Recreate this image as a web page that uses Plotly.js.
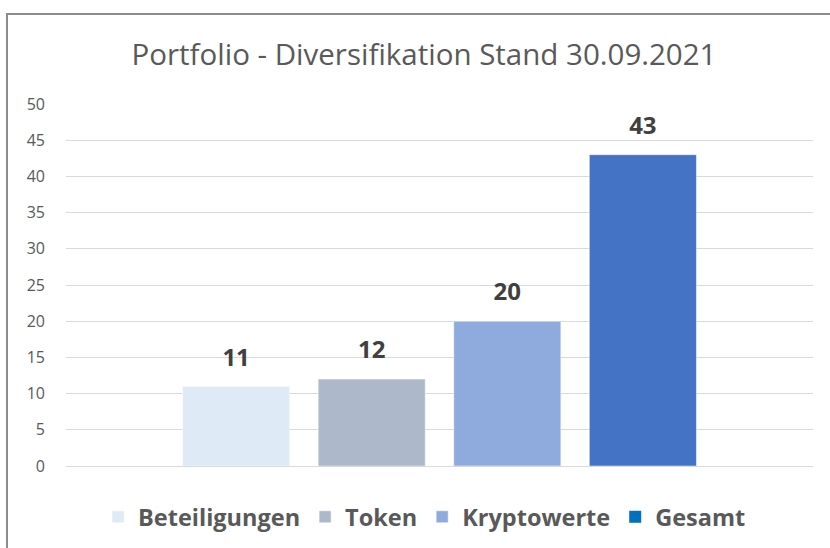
<!DOCTYPE html>
<html>
<head>
<meta charset="utf-8">
<script src="https://cdn.plot.ly/plotly-3.0.1.min.js"></script>
<style>
  html, body { margin: 0; padding: 0; background: #ffffff; overflow: hidden; }
  #wrap { position: relative; width: 830px; height: 548px; }
  #chart { width: 830px; height: 548px; }
  #frame { position: absolute; left: 6px; top: 13px; width: 900px; height: 700px;
           border: 2px solid #8c8c8c; pointer-events: none; }
</style>
</head>
<body>
<div id="wrap">
  <div id="chart"></div>
  <div id="frame"></div>
</div>
<script>
// Data
const category = ["Portfolio"];
const seriesNames = ["Beteiligungen", "Token", "Kryptowerte", "Gesamt"];
const seriesValues = [11, 12, 20, 43];
const barColors = ["#DEEBF7", "#ADB9CA", "#8FAADC", "#4472C4"];
const legendColors = ["#DEEBF7", "#ADB9CA", "#8FAADC", "#0070C0"];
const yTicks = [0, 5, 10, 15, 20, 25, 30, 35, 40, 45, 50];

const FONT = "'Open Sans', sans-serif";
const GAP = 0.274;

const traces = seriesNames.map((name, i) => ({
  type: "bar",
  name: name,
  x: category,
  y: [seriesValues[i]],
  marker: { color: barColors[i], line: { color: "#ffffff", width: 0.5 } },
  showlegend: legendColors[i] === barColors[i],
  hoverinfo: "name+y"
}));

// data labels, grouped the same way as the bars
seriesNames.forEach((name, i) => {
  traces.push({
    type: "scatter",
    mode: "markers+text",
    name: name + " label",
    x: category,
    y: [seriesValues[i]],
    text: ["<b>" + seriesValues[i] + "</b>"],
    textposition: "top center",
    textfont: { family: FONT, size: 24, color: "#404040" },
    marker: { size: 22, opacity: 0 },
    cliponaxis: false,
    showlegend: false,
    hoverinfo: "skip"
  });
});

// legend entry for series whose legend swatch differs from the bar fill
seriesNames.forEach((name, i) => {
  if (legendColors[i] !== barColors[i]) {
    traces.push({
      type: "bar",
      name: name,
      x: category,
      y: [null],
      xaxis: "x2",
      yaxis: "y2",
      marker: { color: legendColors[i] },
      showlegend: true,
      hoverinfo: "skip"
    });
  }
});

const layout = {
  width: 830,
  height: 548,
  margin: { l: 66, r: 17, t: 104, b: 82 },
  paper_bgcolor: "#ffffff",
  plot_bgcolor: "#ffffff",
  font: { family: FONT, color: "#595959" },
  title: {
    text: "Portfolio - Diversifikation Stand 30.09.2021",
    font: { family: FONT, size: 29.5, color: "#595959" },
    x: 424 / 830, xanchor: "center", xref: "container",
    y: 1 - 55 / 548, yref: "container", yanchor: "middle"
  },
  barmode: "group",
  bargap: GAP,
  bargroupgap: 0.21,
  scattermode: "group",
  scattergap: GAP,
  xaxis: {
    type: "category",
    showticklabels: false,
    showgrid: false,
    zeroline: false,
    showline: false,
    ticks: ""
  },
  xaxis2: { type: "category", overlaying: "x", visible: false },
  yaxis: {
    range: [0, 50],
    tickvals: yTicks,
    ticktext: yTicks.map(String),
    showgrid: true,
    gridcolor: "#D9D9D9",
    gridwidth: 1,
    zeroline: true,
    zerolinecolor: "#D9D9D9",
    zerolinewidth: 1,
    showline: false,
    ticks: "",
    ticklabelstandoff: 20,
    tickfont: { family: FONT, size: 16, color: "#595959" }
  },
  yaxis2: { range: [0, 50], overlaying: "y", visible: false },
  legend: {
    orientation: "h",
    x: 0.48, xanchor: "center",
    y: 1 - 495 / 548, yref: "container", yanchor: "top",
    font: { family: FONT, size: 23.5, color: "#595959", weight: "bold" },
    itemclick: false,
    itemdoubleclick: false
  },
  showlegend: true
};

Plotly.newPlot("chart", traces, layout, { displayModeBar: false, staticPlot: true });
</script>
</body>
</html>
